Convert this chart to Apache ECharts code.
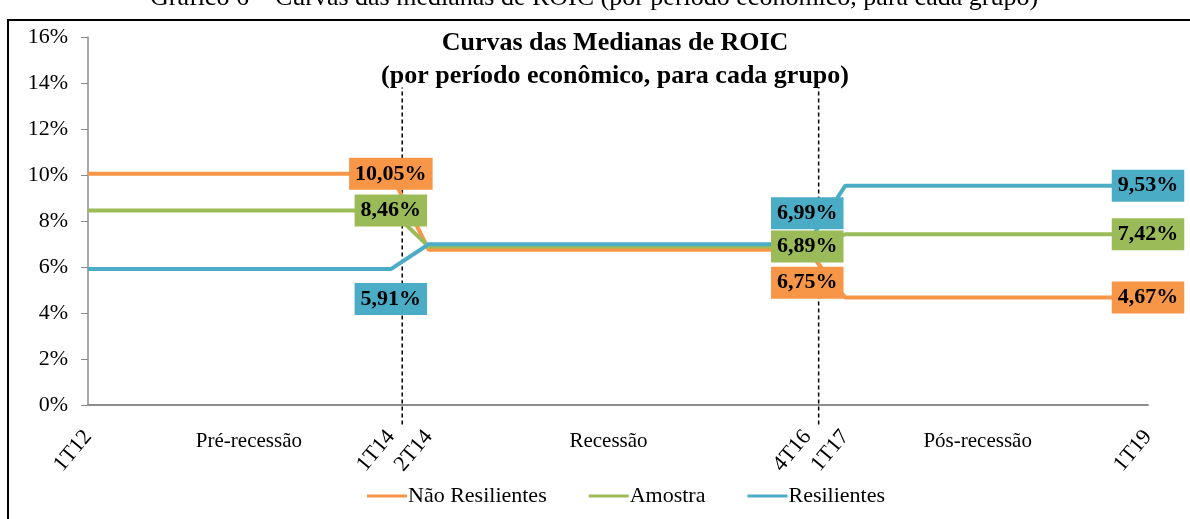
<!DOCTYPE html>
<html>
<head>
<meta charset="utf-8">
<script src="https://cdn.jsdelivr.net/npm/echarts@6/dist/echarts.min.js"></script>
<style>
  html, body { margin: 0; padding: 0; background: #fff; }
  #grafico { width: 1190px; height: 519px; }
</style>
</head>
<body>
<div id="grafico"></div>
<script>
  // trimestres do eixo x
  const trimestres = ['1T12','2T12','3T12','4T12','1T13','2T13','3T13','4T13',
    '1T14','2T14','3T14','4T14','1T15','2T15','3T15','4T15',
    '1T16','2T16','3T16','4T16','1T17','2T17','3T17','4T17',
    '1T18','2T18','3T18','4T18','1T19']
  const rotulosVisiveis = ['1T12','1T14','2T14','4T16','1T17','1T19']
  // pontos onde as medianas mudam
  const pontos = ['1T12','1T14','2T14','4T16','1T17','1T19']
  const naoResilientes = [10.05, 10.05, 6.75, 6.75, 4.67, 4.67]
  const amostra = [8.46, 8.46, 6.89, 6.89, 7.42, 7.42]
  const resilientes = [5.91, 5.91, 6.99, 6.99, 9.53, 9.53]
  // periodos economicos (centro em trimestres)
  const periodos = ['Pré-recessão', 'Recessão', 'Pós-recessão']
  const centroPeriodos = [4.25, 13.75, 23.5]
  // linhas tracejadas que separam os periodos
  const divisores = [8.3, 19.3]
  const limitesDivisor = [-0.85, 13.8]

  const fonte = 'Liberation Serif'
  const chart = echarts.init(document.getElementById('grafico'))

  // cria uma serie; desloc = deslocamento do rotulo (null = sem rotulo)
  function serie(nome, valores, cor, desloc) {
    return {
      name: nome,
      type: 'line',
      symbol: 'circle',
      symbolSize: 1,
      z: 3,
      itemStyle: { color: cor },
      lineStyle: { color: cor, width: 4 },
      emphasis: { disabled: true },
      data: valores.map((v, i) => {
        const item = { value: [trimestres.indexOf(pontos[i]), v] }
        if (desloc[i]) {
          item.label = {
            show: true,
            position: 'inside',
            offset: desloc[i],
            formatter: (p) => p.value[1].toFixed(2).replace('.', ',') + '%',
            backgroundColor: cor,
            padding: [6, 6, 4, 6],
            fontFamily: fonte,
            fontWeight: 'bold',
            fontSize: 22,
            color: '#000'
          }
        }
        return item
      })
    }
  }

  const tracejadas = divisores.map((d) => ({
    type: 'line',
    silent: true,
    clip: false,
    symbol: 'none',
    z: 2,
    lineStyle: { color: '#000', width: 1.5, type: [4, 3] },
    data: limitesDivisor.map((y) => [d, y])
  }))

  const option = {
    animation: false,
    title: {
      left: 610,
      top: 22,
      textAlign: 'center',
      text: 'Curvas das Medianas de ROIC\n(por período econômico, para cada grupo)',
      textStyle: { fontFamily: fonte, fontWeight: 'bold', fontSize: 26, lineHeight: 33, color: '#000' }
    },
    legend: {
      bottom: 7,
      left: 362,
      icon: 'rect',
      itemWidth: 40,
      itemHeight: 3,
      itemGap: 42,
      data: ['Não Resilientes', 'Amostra', 'Resilientes'],
      textStyle: { fontFamily: fonte, fontSize: 22, color: '#000', padding: [0, 0, 0, -4] }
    },
    grid: { left: 88, right: 42, top: 37, bottom: 114 },
    xAxis: [
      {
        type: 'value',
        min: 0,
        max: 28,
        interval: 1,
        axisLine: { lineStyle: { color: '#8c8c8c', width: 2 } },
        axisTick: { show: false },
        splitLine: { show: false },
        axisLabel: {
          rotate: 50,
          margin: 28,
          fontFamily: fonte,
          fontSize: 22,
          color: '#000',
          formatter: (v) => rotulosVisiveis.includes(trimestres[v]) ? trimestres[v] : ''
        }
      },
      {
        type: 'value',
        position: 'bottom',
        min: 0,
        max: 28,
        interval: 0.25,
        axisLine: { show: false },
        axisTick: { show: false },
        splitLine: { show: false },
        axisLabel: {
          margin: 26,
          fontFamily: fonte,
          fontSize: 21,
          color: '#000',
          formatter: (v) => {
            const i = centroPeriodos.findIndex((c) => Math.abs(c - v) < 0.01)
            return i >= 0 ? periodos[i] : ''
          }
        }
      }
    ],
    yAxis: {
      type: 'value',
      min: 0,
      max: 16,
      interval: 2,
      axisLine: { show: true, lineStyle: { color: '#8c8c8c', width: 1.5 } },
      axisTick: { show: true, length: 7, lineStyle: { color: '#8c8c8c' } },
      splitLine: { show: false },
      axisLabel: { margin: 20, fontFamily: fonte, fontSize: 22, color: '#000', formatter: '{value}%' }
    },
    graphic: [
      {
        type: 'rect',
        shape: { x: 8, y: 20, width: 1200, height: 520 },
        style: { fill: 'none', stroke: '#000', lineWidth: 2 }
      },
      {
        type: 'text',
        left: 150,
        top: -15,
        style: {
          text: 'Gráfico 6 – Curvas das medianas de ROIC (por período econômico, para cada grupo)',
          font: '26px "Liberation Serif"',
          fill: '#000'
        }
      }
    ],
    series: [
      ...tracejadas,
      serie('Não Resilientes', naoResilientes, '#F79646', [null, [0, 0], null, [0, 33], null, [0, 0]]),
      serie('Amostra', amostra, '#9BBB59', [null, [0, 0], null, [0, 0], null, [0, 0]]),
      serie('Resilientes', resilientes, '#4BACC6', [null, [0, 30], null, [0, -31], null, [0, 0]])
    ]
  }
  chart.setOption(option)
</script>
</body>
</html>
